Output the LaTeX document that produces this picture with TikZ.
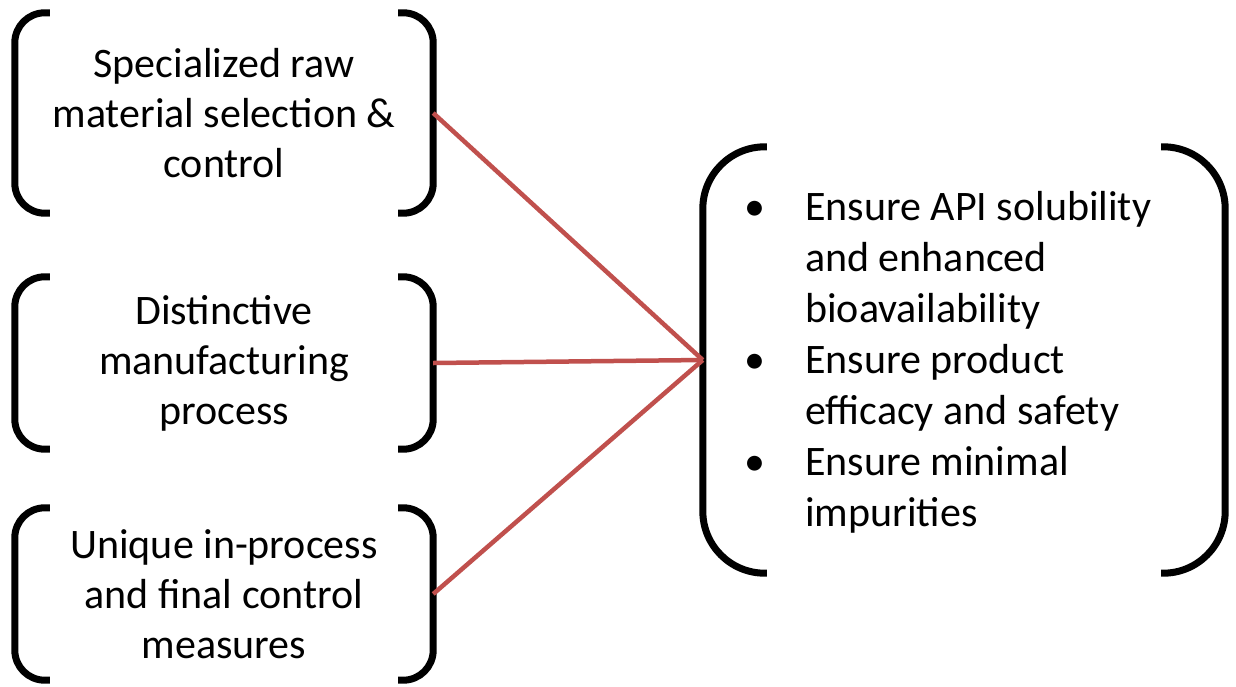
\documentclass[tikz,border=0pt]{standalone}
\usepackage{fontspec}
\setmainfont{Carlito}
\usepackage{array}
\definecolor{linkred}{HTML}{C0504D}
\tikzset{
  leftbox/.style={minimum width=418pt, minimum height=#1, inner sep=0pt, align=center,
    font=\fontsize{42}{50}\selectfont},
  bracket/.style={line width=7pt, black, rounded corners=#1},
  link/.style={line width=4.5pt, linkred},
}
\begin{document}
\begin{tikzpicture}[x=1pt,y=-1pt]
\useasboundingbox (0,0) rectangle (1236,686);
% left boxes
\node[leftbox=200pt] (a) at (224,113) {Specialized raw\\material selection \&\\control};
\node[leftbox=172pt] (b) at (224,363) {Distinctive\\manufacturing\\process};
\node[leftbox=172pt] (c) at (224,594) {Unique in-process\\and final control\\measures};
% right box
\node[minimum width=522pt, minimum height=426pt, inner sep=0pt] (r) at (964,360) {};
\node[anchor=west, inner sep=0pt, font=\fontsize{42}{51}\selectfont] (rt) at (744,363.5)
{\begin{tabular}{@{}p{61pt}@{}l@{}}
\textbullet & Ensure API solubility\\
 & and enhanced\\
 & bioavailability\\
\textbullet & Ensure product\\
 & efficacy and safety\\
\textbullet & Ensure minimal\\
 & impurities
\end{tabular}};
% brackets
\foreach \n/\r in {a/30,b/30,c/30}{
  \draw[bracket=\r] ([xshift=35pt]\n.north west) -- (\n.north west) -- (\n.south west) -- ([xshift=35pt]\n.south west);
  \draw[bracket=\r] ([xshift=-35pt]\n.north east) -- (\n.north east) -- (\n.south east) -- ([xshift=-35pt]\n.south east);
}
\draw[bracket=62] ([xshift=64pt]r.north west) -- (r.north west) -- (r.south west) -- ([xshift=64pt]r.south west);
\draw[bracket=62] ([xshift=-64pt]r.north east) -- (r.north east) -- (r.south east) -- ([xshift=-64pt]r.south east);
% links
\draw[link] (a.east) -- (r.west);
\draw[link] (b.east) -- (r.west);
\draw[link] (c.east) -- (r.west);
\end{tikzpicture}
\end{document}
